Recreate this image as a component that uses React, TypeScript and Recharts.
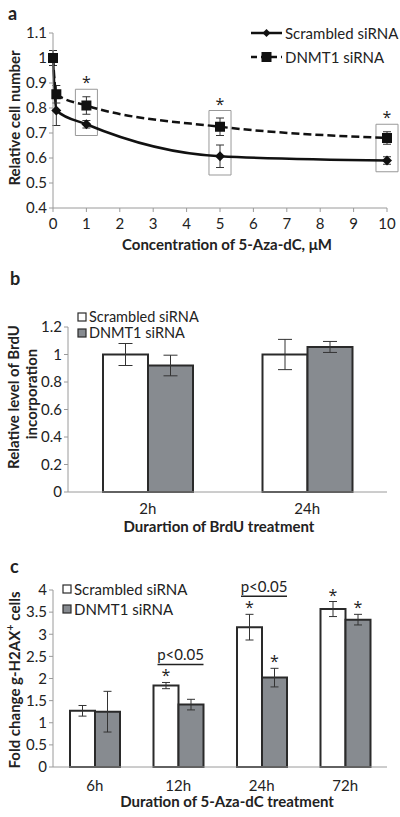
import React from 'react';
import {
  LineChart,
  Line,
  BarChart,
  Bar,
  XAxis,
  YAxis,
  ErrorBar,
  ReferenceArea,
  Legend,
  LabelList,
  Label,
} from 'recharts';

// panel a
const concentrations = [0, 0.1, 1, 5, 10];
const scrambledCells = [1, 0.79, 0.735, 0.607, 0.59];
const scrambledCellsErr = [0.03, 0.06, 0.015, 0.045, 0.015];
const dnmt1Cells = [1, 0.855, 0.81, 0.725, 0.68];
const dnmt1CellsErr = [0.03, 0.035, 0.035, 0.035, 0.025];
const significantConc = [1, 5, 10];
const concTicks = [0, 1, 2, 3, 4, 5, 6, 7, 8, 9, 10];
const cellTicks = [0.4, 0.5, 0.6, 0.7, 0.8, 0.9, 1, 1.1];

// panel b
const brduTimes = ['2h', '24h'];
const scrambledBrdu = [1.0, 1.0];
const scrambledBrduErr = [0.08, 0.11];
const dnmt1Brdu = [0.92, 1.055];
const dnmt1BrduErr = [0.075, 0.04];
const brduTicks = [0, 0.2, 0.4, 0.6, 0.8, 1, 1.2];

// panel c
const azaTimes = ['6h', '12h', '24h', '72h'];
const scrambledH2ax = [1.27, 1.84, 3.16, 3.57];
const scrambledH2axErr = [0.12, 0.07, 0.29, 0.17];
const dnmt1H2ax = [1.25, 1.41, 2.02, 3.33];
const dnmt1H2axErr = [0.46, 0.12, 0.21, 0.12];
const scrambledStar = [false, true, true, true];
const dnmt1Star = [false, false, true, true];
const pairSig = [false, true, true, false];
const h2axTicks = [0, 0.5, 1, 1.5, 2, 2.5, 3, 3.5, 4];

const seriesNames = ['Scrambled siRNA', 'DNMT1 siRNA'];

const cellData = concentrations.map((c, i) => ({
  conc: c,
  scr: scrambledCells[i],
  scrErr: scrambledCellsErr[i],
  dnm: dnmt1Cells[i],
  dnmErr: dnmt1CellsErr[i],
}));

const boxes = significantConc.map((c) => {
  const i = concentrations.indexOf(c);
  return {
    x1: c - 0.33,
    x2: c + 0.33,
    y1: Math.min(scrambledCells[i] - scrambledCellsErr[i], dnmt1Cells[i] - dnmt1CellsErr[i]) - 0.03,
    y2: Math.max(scrambledCells[i] + scrambledCellsErr[i], dnmt1Cells[i] + dnmt1CellsErr[i]) + 0.03,
  };
});

const brduData = brduTimes.map((t, i) => ({
  time: t,
  scr: scrambledBrdu[i],
  scrErr: scrambledBrduErr[i],
  dnm: dnmt1Brdu[i],
  dnmErr: dnmt1BrduErr[i],
}));

const h2axData = azaTimes.map((t, i) => ({
  time: t,
  scr: scrambledH2ax[i],
  scrErr: scrambledH2axErr[i],
  dnm: dnmt1H2ax[i],
  dnmErr: dnmt1H2axErr[i],
}));

const FONT = 'Lato, "Open Sans", sans-serif';
const STAR_FONT = '"Open Sans", sans-serif';
const TEXT = '#222';
const AXIS = '#9a9a9a';
const GRAY = '#878b90';
const EDGE = '#2a2a2a';
const tickStyle = { fontSize: 15, fill: TEXT, fontFamily: FONT };

const Diamond = (props: any) => {
  const { cx, cy, index } = props;
  if (cx == null || cy == null) return <g key={`d${index}`} />;
  const s = 5;
  return (
    <path
      key={`d${index}`}
      d={`M${cx},${cy - s}L${cx + s},${cy}L${cx},${cy + s}L${cx - s},${cy}Z`}
      fill="#111"
    />
  );
};

const Square = (props: any) => {
  const { cx, cy, index } = props;
  if (cx == null || cy == null) return <g key={`s${index}`} />;
  const s = 5;
  return <rect key={`s${index}`} x={cx - s} y={cy - s} width={s * 2} height={s * 2} fill="#111" />;
};

const BoxStar = (props: any) => {
  const vb = props.viewBox || {};
  return (
    <text
      x={vb.x + vb.width / 2}
      y={vb.y - 1}
      textAnchor="middle"
      fontSize={16}
      fontFamily={STAR_FONT}
      fill={TEXT}
    >
      *
    </text>
  );
};

const LineLegend = () => (
  <div style={{ fontFamily: FONT, fontSize: 15, color: TEXT }}>
    {seriesNames.map((name, i) => (
      <div key={name} style={{ display: 'flex', alignItems: 'center', height: 24 }}>
        <svg width={33} height={14}>
          <line
            x1={0}
            x2={31}
            y1={7}
            y2={7}
            stroke="#111"
            strokeWidth={2.5}
            strokeDasharray={i === 1 ? '6 4' : undefined}
          />
          {i === 0 ? (
            <path d="M15.5,3L19.5,7L15.5,11L11.5,7Z" fill="#111" />
          ) : (
            <rect x={10.5} y={2} width={10} height={10} fill="#111" />
          )}
        </svg>
        <span style={{ marginLeft: 1 }}>{name}</span>
      </div>
    ))}
  </div>
);

const BarLegend = ({ rowHeight, fontSize }: { rowHeight: number; fontSize: number }) => (
  <div style={{ fontFamily: FONT, fontSize, color: TEXT, lineHeight: `${rowHeight}px` }}>
    {seriesNames.map((name, i) => (
      <div key={name} style={{ display: 'flex', alignItems: 'center', height: rowHeight }}>
        <svg width={11} height={11}>
          <rect x={1} y={1} width={8} height={8} fill={i === 0 ? '#fff' : GRAY} stroke={EDGE} strokeWidth={1.2} />
        </svg>
        <span style={{ marginLeft: 1 }}>{name}</span>
      </div>
    ))}
  </div>
);

const makeStar = (flags: boolean[], errs: number[], withPair: boolean) => (props: any) => {
  const { x, y, width, height, value, index } = props;
  const k = Number(value) ? Number(height) / Number(value) : 0;
  const errTop = Number(y) - errs[index] * k;
  const cx = Number(x) + Number(width) / 2;
  return (
    <g key={`st${index}`}>
      {flags[index] && (
        <text x={cx} y={errTop - 1} textAnchor="middle" fontSize={16} fontFamily={STAR_FONT} fill={TEXT}>
          *
        </text>
      )}
      {withPair && pairSig[index] && (
        <g>
          <text
            x={Number(x) + Number(width) + 2}
            y={errTop - 22}
            textAnchor="middle"
            fontSize={15}
            fontFamily={FONT}
            fill={TEXT}
          >
            p&lt;0.05
          </text>
          <line
            x1={Number(x) + Number(width) - 21}
            x2={Number(x) + Number(width) + 25}
            y1={errTop - 18}
            y2={errTop - 18}
            stroke={TEXT}
            strokeWidth={1.5}
          />
        </g>
      )}
    </g>
  );
};

const panelLetter = (letter: string, top: number, left: number) => (
  <div
    style={{
      position: 'absolute',
      top,
      left,
      fontFamily: FONT,
      fontWeight: 700,
      fontSize: 18,
      color: TEXT,
      lineHeight: '18px',
    }}
  >
    {letter}
  </div>
);

export default function App() {
  return (
    <div style={{ position: 'absolute', left: 0, top: 0, width: 400, height: 817, background: '#fff' }}>
      {panelLetter('a', 4, 8)}
      <div style={{ position: 'absolute', left: 0, top: 0 }}>
        <LineChart width={400} height={260} data={cellData} margin={{ top: 33, right: 13, left: 0, bottom: 0 }}>
          <XAxis
            type="number"
            dataKey="conc"
            domain={[0, 10]}
            ticks={concTicks}
            interval={0}
            height={52}
            tick={tickStyle}
            tickSize={4}
            tickMargin={6}
            stroke={AXIS}
          >
            <Label
              content={() => (
                <text x={227} y={250} textAnchor="middle" fontSize={15} fontWeight={700} fontFamily={FONT} fill={TEXT}>
                  Concentration of 5-Aza-dC, μM
                </text>
              )}
            />
          </XAxis>
          <YAxis
            type="number"
            domain={[0.4, 1.1]}
            ticks={cellTicks}
            interval={0}
            width={53}
            tick={tickStyle}
            tickSize={4}
            stroke={AXIS}
          >
            <Label
              content={() => (
                <text
                  x={0}
                  y={0}
                  transform="translate(20,118) rotate(-90)"
                  textAnchor="middle"
                  fontSize={15}
                  fontWeight={700}
                  fontFamily={FONT}
                  fill={TEXT}
                >
                  Relative cell number
                </text>
              )}
            />
          </YAxis>
          {boxes.map((b) => (
            <ReferenceArea
              key={b.x1}
              x1={b.x1}
              x2={b.x2}
              y1={b.y1}
              y2={b.y2}
              fill="none"
              fillOpacity={0}
              stroke="#999"
              strokeWidth={1}
              ifOverflow="visible"
              label={<BoxStar />}
            />
          ))}
          <Line
            dataKey="scr"
            type="monotone"
            stroke="#111"
            strokeWidth={2.5}
            dot={Diamond}
            activeDot={false}
            isAnimationActive={false}
          >
            <ErrorBar dataKey="scrErr" width={4} stroke="#333" strokeWidth={1} direction="y" />
          </Line>
          <Line
            dataKey="dnm"
            type="monotone"
            stroke="#111"
            strokeWidth={2.5}
            strokeDasharray="8 4"
            dot={Square}
            activeDot={false}
            isAnimationActive={false}
          >
            <ErrorBar dataKey="dnmErr" width={4} stroke="#333" strokeWidth={1} direction="y" />
          </Line>
          <Legend
            layout="vertical"
            align="center"
            verticalAlign="middle"
            content={() => <LineLegend />}
            wrapperStyle={{ top: 21, left: 251, width: 150, bottom: 'auto', right: 'auto' }}
          />
        </LineChart>
      </div>

      {panelLetter('b', 269, 10)}
      <div style={{ position: 'absolute', left: 0, top: 270 }}>
        <BarChart
          width={400}
          height={270}
          data={brduData}
          margin={{ top: 57, right: 13, left: 0, bottom: 0 }}
          barSize={45}
          barGap={0}
        >
          <XAxis dataKey="time" height={48} tick={tickStyle} tickLine={false} tickSize={4} tickMargin={7} stroke={AXIS}>
            <Label
              content={() => (
                <text x={219} y={262} textAnchor="middle" fontSize={15} fontWeight={700} fontFamily={FONT} fill={TEXT}>
                  Durartion of BrdU treatment
                </text>
              )}
            />
          </XAxis>
          <YAxis
            type="number"
            domain={[0, 1.2]}
            ticks={brduTicks}
            interval={0}
            width={68}
            tick={tickStyle}
            tickSize={4}
            stroke={AXIS}
          >
            <Label
              content={() => (
                <g>
                  <text
                    transform="translate(19,127) rotate(-90)"
                    textAnchor="middle"
                    fontSize={15}
                    fontWeight={700}
                    fontFamily={FONT}
                    fill={TEXT}
                  >
                    Relative level of BrdU
                  </text>
                  <text
                    transform="translate(37,124) rotate(-90)"
                    textAnchor="middle"
                    fontSize={15}
                    fontWeight={700}
                    fontFamily={FONT}
                    fill={TEXT}
                  >
                    incorporation
                  </text>
                </g>
              )}
            />
          </YAxis>
          <Bar dataKey="scr" fill="#fff" stroke={EDGE} strokeWidth={2} isAnimationActive={false}>
            <ErrorBar dataKey="scrErr" width={7} stroke="#333" strokeWidth={1} direction="y" />
          </Bar>
          <Bar dataKey="dnm" fill={GRAY} stroke={EDGE} strokeWidth={2} isAnimationActive={false}>
            <ErrorBar dataKey="dnmErr" width={7} stroke="#333" strokeWidth={1} direction="y" />
          </Bar>
          <Legend
            layout="vertical"
            align="center"
            verticalAlign="middle"
            content={() => <BarLegend rowHeight={16} fontSize={14.5} />}
            wrapperStyle={{ top: 39, left: 77, width: 150, bottom: 'auto', right: 'auto' }}
          />
        </BarChart>
      </div>

      {panelLetter('c', 557, 10)}
      <div style={{ position: 'absolute', left: 0, top: 540 }}>
        <BarChart
          width={400}
          height={277}
          data={h2axData}
          margin={{ top: 50, right: 13, left: 0, bottom: 0 }}
          barSize={25}
          barGap={0}
        >
          <XAxis dataKey="time" height={50} tick={tickStyle} tickLine={false} tickSize={4} tickMargin={9} stroke={AXIS}>
            <Label
              content={() => (
                <text x={227} y={267} textAnchor="middle" fontSize={15} fontWeight={700} fontFamily={FONT} fill={TEXT}>
                  Duration of 5-Aza-dC treatment
                </text>
              )}
            />
          </XAxis>
          <YAxis
            type="number"
            domain={[0, 4]}
            ticks={h2axTicks}
            interval={0}
            width={53}
            tick={tickStyle}
            tickSize={4}
            stroke={AXIS}
          >
            <Label
              content={() => (
                <text
                  transform="translate(20,140) rotate(-90)"
                  textAnchor="middle"
                  fontSize={15}
                  fontWeight={700}
                  fontFamily={FONT}
                  fill={TEXT}
                >
                  Fold change g-H2AX
                  <tspan baselineShift="super" fontSize={11}>+</tspan>
                  <tspan> cells</tspan>
                </text>
              )}
            />
          </YAxis>
          <Bar dataKey="scr" fill="#fff" stroke={EDGE} strokeWidth={2} isAnimationActive={false}>
            <ErrorBar dataKey="scrErr" width={4} stroke="#333" strokeWidth={1} direction="y" />
            <LabelList dataKey="scr" content={makeStar(scrambledStar, scrambledH2axErr, true)} />
          </Bar>
          <Bar dataKey="dnm" fill={GRAY} stroke={EDGE} strokeWidth={2} isAnimationActive={false}>
            <ErrorBar dataKey="dnmErr" width={4} stroke="#333" strokeWidth={1} direction="y" />
            <LabelList dataKey="dnm" content={makeStar(dnmt1Star, dnmt1H2axErr, false)} />
          </Bar>
          <Legend
            layout="vertical"
            align="center"
            verticalAlign="middle"
            content={() => <BarLegend rowHeight={20} fontSize={15} />}
            wrapperStyle={{ top: 39, left: 62, width: 150, bottom: 'auto', right: 'auto' }}
          />
        </BarChart>
      </div>
    </div>
  );
}
